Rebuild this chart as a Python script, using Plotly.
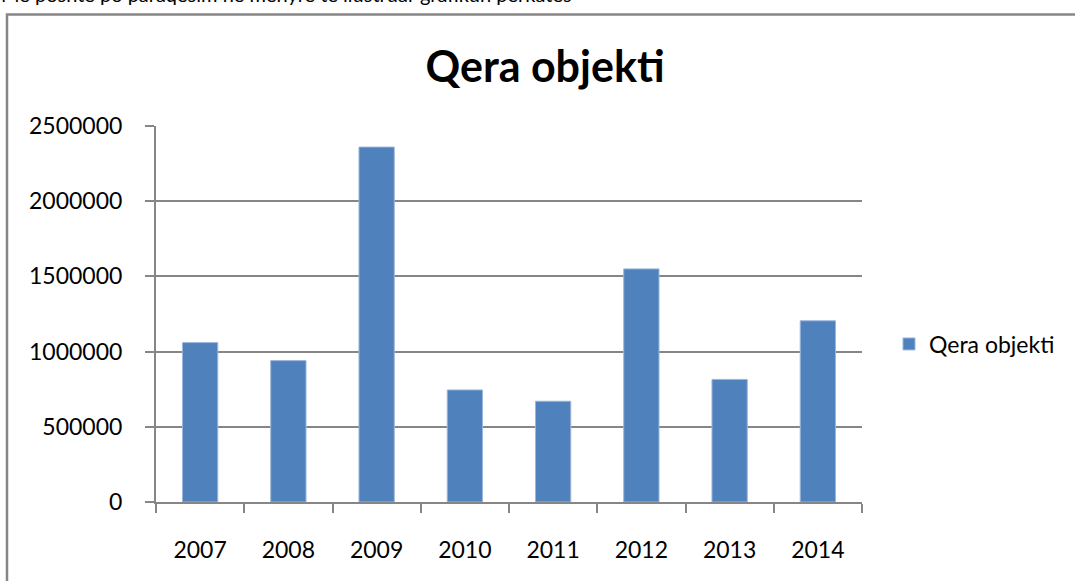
import plotly.graph_objects as go

years = ["2007", "2008", "2009", "2010", "2011", "2012", "2013", "2014"]
values = [1060000, 940000, 2360000, 745000, 670000, 1550000, 815000, 1205000]
series_name = "Qera objekti"
title_text = "Qera objekti"
header_text = "Më poshtë po paraqesim në mënyrë të ilustruar grafikun përkatës"
y_ticks = [0, 500000, 1000000, 1500000, 2000000, 2500000]

W, H = 1075, 581
L, R, T, B = 156, 213, 126, 79
pw, ph = W - L - R, H - T - B

def px_x(px):
    return (px - L) / pw

def px_y(py):
    return (H - B - py) / ph

FONT = "Lato"
GRID = "#868686"

fig = go.Figure()
fig.add_trace(go.Bar(
    x=years, y=values, name=series_name,
    marker=dict(color="#4F81BD", line=dict(color="#9DB7DA", width=1)),
    showlegend=True,
))

fig.update_layout(
    width=W, height=H,
    margin=dict(l=L, r=R, t=T, b=B, autoexpand=False),
    paper_bgcolor="white", plot_bgcolor="white",
    bargap=0.6,
    font=dict(family=FONT, size=23, color="#000000"),
    title=dict(text="<b>" + title_text + "</b>", x=px_x(545), xref="paper", xanchor="center",
               y=1 - 67 / H, yanchor="middle", yref="container",
               font=dict(family=FONT, size=43, color="#000000")),
    legend=dict(x=px_x(889), xanchor="left", y=px_y(344), yanchor="middle",
                font=dict(family=FONT, size=23), bgcolor="rgba(0,0,0,0)",
                itemwidth=30),
    xaxis=dict(
        showline=True, linecolor=GRID, linewidth=2,
        ticks="outside", tickson="boundaries", ticklen=9, tickcolor=GRID, tickwidth=2,
        showgrid=False, ticklabelstandoff=26,
        tickfont=dict(family=FONT, size=23),
    ),
    yaxis=dict(
        range=[0, 2500000], tickvals=y_ticks, ticktext=[str(v) for v in y_ticks],
        showline=True, linecolor=GRID, linewidth=2,
        ticks="outside", ticklen=9, tickcolor=GRID, tickwidth=2,
        showgrid=True, gridcolor=GRID, gridwidth=2, zeroline=False,
        ticklabelstandoff=18,
        tickfont=dict(family=FONT, size=23),
    ),
)

# outer chart frame
fig.add_shape(type="rect", xref="paper", yref="paper",
              x0=px_x(7), x1=px_x(1200), y0=px_y(700), y1=px_y(14.5),
              line=dict(color=GRID, width=2.5), fillcolor="rgba(0,0,0,0)", layer="below")

# clipped header text above the chart
fig.add_annotation(text=header_text, xref="paper", yref="paper",
                   x=px_x(-1), xanchor="left", y=px_y(8), yanchor="bottom",
                   showarrow=False, font=dict(family=FONT, size=20, color="#000000"))

fig.write_html("out.html", config={"displayModeBar": False},
               post_script="document.body.style.margin='0';document.body.style.overflow='hidden';")
